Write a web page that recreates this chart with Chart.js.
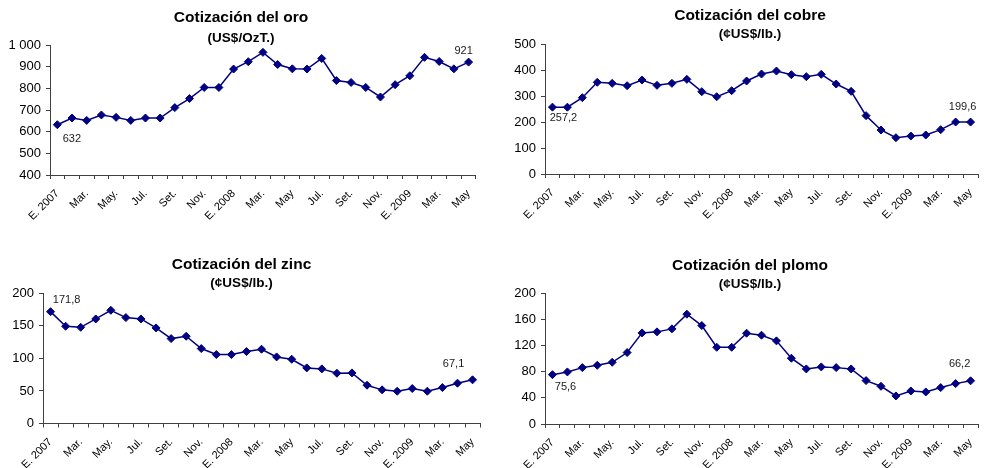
<!DOCTYPE html>
<html>
<head>
<meta charset="utf-8">
<script src="https://cdn.jsdelivr.net/npm/chart.js@4"></script>
<style>
html,body{margin:0;padding:0;background:#fff;width:990px;height:468px;overflow:hidden;}
canvas{position:absolute;display:block;}
</style>
</head>
<body>
<canvas id="c1" width="486" height="240" style="left:0;top:0"></canvas>
<canvas id="c2" width="476" height="240" style="left:512px;top:0"></canvas>
<canvas id="c3" width="490" height="228" style="left:0;top:240px"></canvas>
<canvas id="c4" width="476" height="228" style="left:512px;top:240px"></canvas>
<script>
// ---- data ----
const categories = ['E. 2007','Feb.','Mar.','Abr.','May.','Jun.','Jul.','Ago.','Set.','Oct.','Nov.','Dic.',
  'E. 2008','Feb.','Mar.','Abr.','May','Jun.','Jul.','Ago.','Set.','Oct.','Nov.','Dic.',
  'E. 2009','Feb.','Mar.','Abr.','May'];
const oro = [632,663,652,677,666,652,663,663,711,753,804,804,889,923,966,910,890,889,938,836,827,804,760,817,858,943,924,890,921];
const cobre = [257.2,257.0,293.6,352.6,348.7,339.7,361.5,341.0,348.7,364.0,316.7,297.4,320.5,357.7,384.6,396.0,382.0,374.4,383.3,346.0,318.0,224.4,169.2,139.7,146.0,150.0,170.5,200.0,199.6];
const zinc = [171.8,149.4,147.8,160.6,173.9,162.7,160.6,146.8,130.4,134.0,115.1,105.9,105.9,110.5,114.1,102.3,98.7,85.4,83.9,77.2,77.7,58.8,51.7,49.6,53.7,49.6,55.2,61.9,67.1];
const plomo = [75.6,79.8,86.4,90.0,94.6,109.5,139.6,141.2,145.8,168.3,150.9,117.6,117.6,139.1,136.1,127.4,100.8,84.4,87.5,86.4,84.4,66.5,57.8,43.0,50.6,49.1,55.8,61.9,66.2];
const titles = ['Cotización del oro','Cotización del cobre','Cotización del zinc','Cotización del plomo'];
const units = ['(US$/OzT.)','(¢US$/lb.)','(¢US$/lb.)','(¢US$/lb.)'];
const yTicks = {oro:[400,1000,100], cobre:[0,500,100], zinc:[0,200,50], plomo:[0,200,40]};

const FONT = '"Liberation Sans", Arial, Helvetica, sans-serif';
const NAVY = '#000080';
const AXIS = '#404040';
const TSIZE = 15.5, SSIZE = 13.5;

function fmt(v){ return String(v).replace('.', ','); }

const valueLabels = {
  id: 'valueLabels',
  afterDatasetsDraw(chart, args, opts) {
    const meta = chart.getDatasetMeta(0);
    const data = chart.data.datasets[0].data;
    const ctx = chart.ctx;
    ctx.save();
    ctx.font = '11px ' + FONT;
    ctx.fillStyle = '#1a1a1a';
    ctx.textAlign = 'center';
    ctx.textBaseline = 'middle';
    (opts.items || []).forEach(it => {
      const p = meta.data[it.index];
      ctx.fillText(fmt(data[it.index]), p.x + it.dx, p.y + it.dy);
    });
    ctx.restore();
  }
};

function build(id, p) {
  const th = TSIZE * 1.2 / 2, sh = SSIZE * 1.2 / 2;
  const tPadTop = p.T - th;
  const sPadTop = p.S - sh - (p.T + th);
  const sPadBot = p.top - (p.S + sh);
  new Chart(document.getElementById(id), {
    type: 'line',
    data: {
      labels: categories,
      datasets: [{
        data: p.data,
        borderColor: NAVY,
        backgroundColor: NAVY,
        borderWidth: 1.5,
        tension: 0,
        pointStyle: 'rectRot',
        pointRadius: 4,
        pointBackgroundColor: NAVY,
        pointBorderColor: NAVY,
        pointBorderWidth: 1
      }]
    },
    plugins: [valueLabels],
    options: {
      responsive: false,
      animation: false,
      layout: { padding: { left: 0, right: p.right, top: 0, bottom: 0 } },
      plugins: {
        legend: { display: false },
        tooltip: { enabled: false },
        title: {
          display: true, text: p.title, color: '#000',
          font: { family: FONT, size: TSIZE, weight: 'bold', lineHeight: 1.2 },
          padding: { top: tPadTop, bottom: 0 }
        },
        subtitle: {
          display: true, text: p.unit, color: '#000',
          font: { family: FONT, size: SSIZE, weight: 'bold', lineHeight: 1.2 },
          padding: { top: sPadTop, bottom: sPadBot }
        },
        valueLabels: { items: p.labels }
      },
      scales: {
        x: {
          type: 'category',
          offset: true,
          border: { color: AXIS, width: 1 },
          grid: { offset: true, drawOnChartArea: false, drawTicks: true, tickLength: 4, color: AXIS },
          ticks: {
            autoSkip: false, maxRotation: 45, minRotation: 45, color: '#000', padding: 8,
            font: { family: FONT, size: 11 },
            callback: (v, i) => (i % 2 === 0 ? categories[i] : '')
          },
          afterFit: s => { s.height = p.xh; }
        },
        y: {
          min: p.y[0], max: p.y[1],
          border: { color: AXIS, width: 1 },
          grid: { drawOnChartArea: false, drawTicks: true, tickLength: 4, color: AXIS },
          ticks: {
            stepSize: p.y[2], color: '#000', padding: 5,
            font: { family: FONT, size: 13 },
            callback: v => (v >= 1000 ? Math.floor(v / 1000) + ' ' + String(v % 1000).padStart(3, '0') : String(v))
          },
          afterFit: s => { s.width = p.yw; }
        }
      }
    }
  });
}

build('c1', { data: oro, title: titles[0], unit: units[0], y: yTicks.oro, T: 18, S: 38, top: 45, yw: 50, right: 4, xh: 65,
  labels: [{ index: 0, dx: 14.5, dy: 14 }, { index: 28, dx: -5, dy: -11 }] });
build('c2', { data: cobre, title: titles[1], unit: units[1], y: yTicks.cobre, T: 16, S: 34, top: 44, yw: 33, right: 0, xh: 66,
  labels: [{ index: 0, dx: 11, dy: 11 }, { index: 28, dx: -8, dy: -15 }] });
build('c3', { data: zinc, title: titles[2], unit: units[2], y: yTicks.zinc, T: 25, S: 43, top: 53.3, yw: 43, right: 7, xh: 44.5,
  labels: [{ index: 0, dx: 16, dy: -12 }, { index: 28, dx: -19, dy: -16 }] });
build('c4', { data: plomo, title: titles[3], unit: units[3], y: yTicks.plomo, T: 26, S: 44, top: 53.5, yw: 33, right: 0, xh: 44,
  labels: [{ index: 0, dx: 13, dy: 12 }, { index: 28, dx: -11, dy: -17 }] });
</script>
</body>
</html>
